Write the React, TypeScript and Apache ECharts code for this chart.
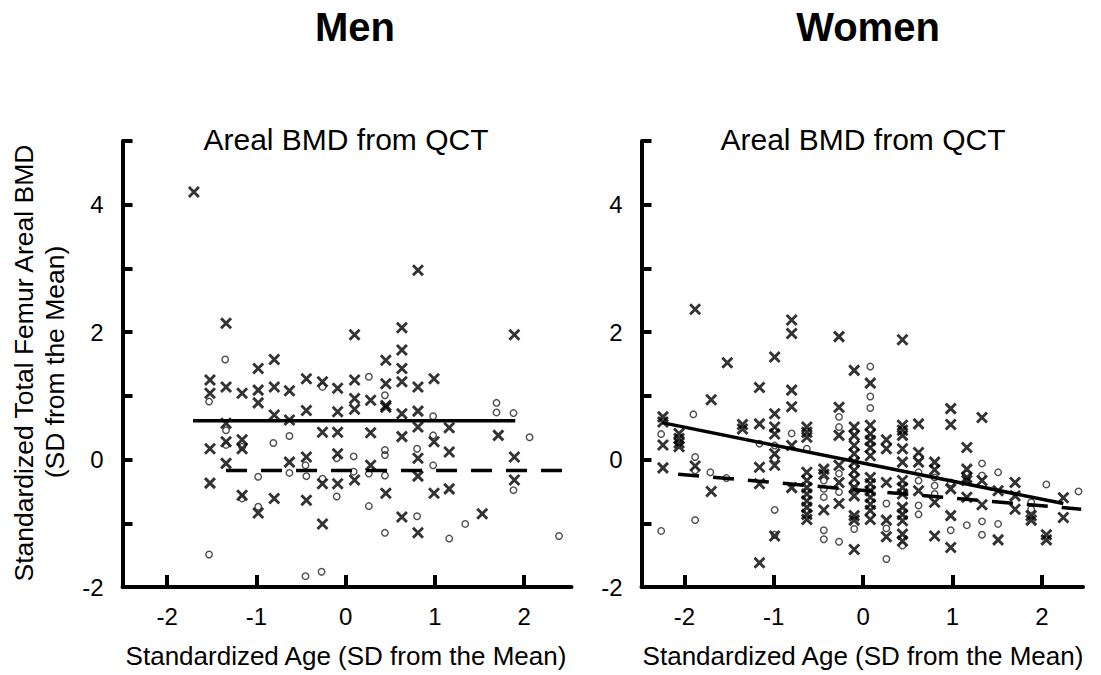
import React, { useEffect, useRef } from 'react';
import * as echarts from 'echarts';

// ---- texts ----
const panelTitles = ['Men', 'Women'];
const panelSubtitle = 'Areal BMD from QCT';
const xAxisName = 'Standardized Age (SD from the Mean)';
const yAxisNameLines = ['Standardized Total Femur Areal BMD', '(SD from the Mean)'];

// ---- ticks ----
const xTicks = [-2, -1, 0, 1, 2];
const yTicks = [-2, -1, 0, 1, 2, 3, 4, 5];
const yTickLabels = [-2, 0, 2, 4];

// ---- Men data (standardized age, standardized BMD) ----
const menCross: number[][] = [
  [-1.70, 4.20], [-1.34, 2.14], [-1.52, 1.25], [-1.52, 1.04], [-1.34, 1.14], [-1.52, 0.17], [-1.52, -0.37],
  [-1.34, 0.57], [-1.34, 0.28], [-1.34, -0.06], [-1.16, 1.04], [-1.16, 0.31], [-1.16, 0.17], [-1.16, -0.56],
  [-0.98, 1.43], [-0.98, 1.09], [-0.98, 0.89], [-0.98, -0.84], [-0.80, 1.57], [-0.80, 1.14], [-0.80, 0.70],
  [-0.80, -0.61], [-0.63, 1.08], [-0.63, 0.62], [-0.63, -0.04], [-0.44, 1.27], [-0.44, 0.77], [-0.44, 0.04],
  [-0.44, -0.64], [-0.26, 1.22], [-0.26, 0.43], [-0.26, -0.38], [-0.26, -1.01], [-0.09, 1.12], [-0.09, 0.75],
  [-0.09, 0.43], [-0.09, 0.09], [-0.09, -0.38], [0.10, 1.96], [0.10, 1.25], [0.10, 0.96], [0.10, 0.79],
  [0.10, -0.32], [0.28, 0.93], [0.28, 0.42], [0.28, -0.09], [0.45, 1.56], [0.45, 1.19], [0.45, 0.85],
  [0.45, 0.82], [0.45, -0.53], [0.63, 2.07], [0.63, 1.72], [0.63, 1.43], [0.63, 1.22], [0.63, 0.72],
  [0.63, 0.36], [0.63, -0.90], [0.81, 2.97], [0.81, 1.14], [0.81, 0.76], [0.81, 0.51], [0.81, 0.02],
  [0.81, -0.26], [0.81, -1.15], [0.99, 1.27], [0.99, 0.28], [0.99, -0.53], [1.16, 0.50], [1.16, 0.12],
  [1.16, -0.46], [1.53, -0.85], [1.71, 0.38], [1.89, 1.96], [1.89, 0.04], [1.89, -0.32],
];
const menCircle: number[][] = [
  [-1.35, 1.57], [-1.53, 0.91], [-1.53, -1.49], [-1.34, 0.46], [-1.34, 0.23], [-1.16, 0.20], [-1.16, -0.61],
  [-0.98, -0.27], [-0.98, -0.74], [-0.81, 0.26], [-0.63, 0.37], [-0.63, -0.21], [-0.45, -0.09], [-0.44, -0.26],
  [-0.45, -1.83], [-0.27, -1.76], [-0.26, 1.14], [-0.26, -0.30], [-0.10, -0.58], [-0.10, 0.02], [0.09, 0.05],
  [0.09, -0.19], [0.26, 1.30], [0.26, -0.22], [0.26, -0.73], [0.44, 1.01], [0.44, 0.15], [0.44, 0.07],
  [0.44, -0.25], [0.44, -1.15], [0.80, 0.17], [0.80, -0.89], [0.98, 0.68], [0.98, 0.38], [0.98, -0.09],
  [1.16, -1.24], [1.34, -1.01], [1.69, 0.89], [1.69, 0.74], [1.88, 0.73], [1.88, -0.48], [2.06, 0.35],
  [2.39, -1.20],
];
const menFitSolid: number[][] = [[-1.71, 0.61], [1.90, 0.61]];
const menFitDashed: number[][] = [[-1.34, -0.17], [2.45, -0.17]];

// ---- Women data ----
const womenCross: number[][] = [
  [-2.24, 0.67], [-2.24, 0.59], [-2.24, 0.23], [-2.24, -0.13],
  [-2.06, 0.41], [-2.06, 0.33], [-2.06, 0.26], [-2.06, 0.20],
  [-1.88, 2.36], [-1.88, -0.10], [-1.70, 0.94], [-1.70, -0.50], [-1.52, 1.52], [-1.35, 0.55], [-1.35, 0.48],
  [-1.16, 1.13], [-1.16, 0.56], [-1.16, -0.12], [-1.16, -0.38], [-1.16, -1.62],
  [-0.99, 1.61], [-0.99, 0.72], [-0.99, 0.51], [-0.99, 0.40], [-0.99, 0.09], [-0.99, -0.09], [-0.99, -1.20],
  [-0.80, 2.19], [-0.80, 1.98], [-0.80, 1.09], [-0.80, 0.83], [-0.80, 0.22], [-0.80, -0.44],
  [-0.63, 0.51], [-0.63, 0.43], [-0.63, 0.35], [-0.63, -0.20], [-0.63, -0.33], [-0.63, -0.44], [-0.63, -0.54],
  [-0.63, -0.65], [-0.63, -0.75], [-0.63, -0.86], [-0.63, -0.94],
  [-0.44, -0.15], [-0.44, -0.23], [-0.44, -0.79],
  [-0.27, 1.93], [-0.27, 0.82], [-0.27, 0.38], [-0.27, -0.09], [-0.27, -0.36], [-0.27, -0.69],
  [-0.10, 1.40], [-0.10, 0.51], [-0.10, 0.38], [-0.10, 0.22], [-0.10, 0.09], [-0.10, -0.04], [-0.10, -0.17],
  [-0.10, -0.30], [-0.10, -0.44], [-0.10, -0.57], [-0.10, -0.88], [-0.10, -0.95], [-0.10, -1.41],
  [0.08, 1.20], [0.08, 0.54], [0.08, 0.40], [0.08, 0.30], [0.08, 0.19], [0.08, 0.06], [0.08, -0.28],
  [0.08, -0.38], [0.08, -0.49], [0.08, -0.59], [0.08, -0.70], [0.08, -0.80], [0.08, -0.94],
  [0.26, 0.31], [0.26, 0.17], [0.26, -0.36], [0.26, -0.95], [0.26, -1.21],
  [0.44, 1.88], [0.44, 0.54], [0.44, 0.46], [0.44, 0.38], [0.44, 0.17], [0.44, -0.04], [0.44, -0.33],
  [0.44, -0.44], [0.44, -0.54], [0.44, -0.75], [0.44, -0.86], [0.44, -0.96], [0.44, -1.17], [0.44, -1.28],
  [0.62, 0.56], [0.62, 0.11], [0.62, -0.04], [0.62, -0.49],
  [0.80, -0.04], [0.80, -0.16], [0.80, -0.67], [0.80, -1.20],
  [0.98, 0.80], [0.98, 0.55], [0.98, -0.46], [0.98, -0.88], [0.98, -1.38],
  [1.16, 0.19], [1.16, -0.15], [1.16, -0.28], [1.16, -0.33], [1.16, -0.59],
  [1.33, 0.66], [1.33, -0.33], [1.33, -0.71], [1.51, -0.49], [1.51, -1.26],
  [1.70, -0.36], [1.70, -0.57], [1.70, -0.78], [1.88, -0.88], [1.88, -0.95],
  [2.05, -1.18], [2.05, -1.26], [2.24, -0.60], [2.24, -0.91],
];
const womenCircle: number[][] = [
  [-2.26, 0.40], [-2.26, -1.12], [-1.90, 0.71], [-1.88, 0.04], [-1.88, -0.17], [-1.71, -0.20], [-1.88, -0.95],
  [-1.53, -0.29], [-1.16, 0.25], [-0.99, 0.22], [-0.99, 0.01], [-0.99, -0.79], [-0.99, -1.18],
  [-0.80, 0.41], [-0.63, 0.17], [-0.44, -0.33], [-0.44, -0.46], [-0.44, -0.59], [-0.44, -1.11], [-0.44, -1.25],
  [-0.27, 0.67], [-0.27, 0.51], [-0.27, -0.22], [-0.27, -0.51], [-0.27, -1.29],
  [-0.10, 0.43], [-0.10, -0.23], [-0.10, -0.46], [-0.10, -1.09],
  [0.08, 1.46], [0.08, 0.99], [0.08, 0.81], [0.08, 0.35], [0.08, 0.25],
  [0.26, -0.69], [0.26, -1.08], [0.26, -1.56], [0.44, -0.80], [0.44, -1.35],
  [0.62, 0.04], [0.62, -0.20], [0.62, -0.33], [0.62, -0.72], [0.62, -0.86],
  [0.80, -0.28], [0.80, -0.41], [0.80, -0.54], [0.98, -0.36], [0.98, -1.11],
  [1.16, -0.23], [1.16, -1.03], [1.33, -0.06], [1.33, -0.25], [1.33, -0.97], [1.33, -1.18],
  [1.51, -0.20], [1.51, -1.01], [1.88, -0.67], [1.88, -0.78], [2.05, -0.39], [2.41, -0.50],
];
const womenFitSolid: number[][] = [[-2.25, 0.58], [2.24, -0.69]];
const womenFitDashed: number[][] = [[-2.07, -0.23], [2.44, -0.78]];

const FONT = '"Liberation Sans", Arial, Helvetica, sans-serif';
const CROSS = 'path://M0,0L10,10M10,0L0,10';

function makeXAxis(gridIndex: number, min: number, max: number) {
  return {
    type: 'value', gridIndex, min, max,
    axisLine: { onZero: false, lineStyle: { color: '#000', width: 4 } },
    axisTick: { inside: true, length: 12, customValues: xTicks, lineStyle: { color: '#000', width: 4 } },
    axisLabel: { customValues: xTicks, margin: 17, fontSize: 24, color: '#000', fontFamily: FONT },
    splitLine: { show: false },
  };
}
function makeYAxis(gridIndex: number) {
  return {
    type: 'value', gridIndex, min: yTicks[0], max: yTicks[yTicks.length - 1], interval: 1,
    axisLine: { onZero: false, lineStyle: { color: '#000', width: 4 } },
    axisTick: { inside: true, length: 10, lineStyle: { color: '#000', width: 4 } },
    axisLabel: {
      margin: 19, fontSize: 24, color: '#000', fontFamily: FONT,
      formatter: (v: number) => (yTickLabels.indexOf(v) >= 0 ? String(v) : ''),
    },
    splitLine: { show: false },
  };
}
function crossSeries(i: number, data: number[][]) {
  return {
    type: 'scatter', xAxisIndex: i, yAxisIndex: i, data, symbol: CROSS, symbolSize: 10, silent: true,
    itemStyle: { color: 'rgba(0,0,0,0)', borderColor: '#000', borderWidth: 2.9 },
  };
}
function circleSeries(i: number, data: number[][]) {
  return {
    type: 'scatter', xAxisIndex: i, yAxisIndex: i, data, symbol: 'circle', symbolSize: 6.5, silent: true,
    itemStyle: { color: 'rgba(255,255,255,0)', borderColor: '#222', borderWidth: 1.4 },
  };
}
function lineSeries(i: number, data: number[][], dashed: boolean) {
  return {
    type: 'line', xAxisIndex: i, yAxisIndex: i, data, symbol: 'none', silent: true,
    lineStyle: { color: '#000', width: 3.5, type: dashed ? [21, 14] : 'solid', cap: 'butt' },
  };
}

export default function App() {
  const ref = useRef<HTMLDivElement>(null);
  useEffect(() => {
    if (!ref.current) return;
    const chart = echarts.init(ref.current, undefined, { renderer: 'svg' });
    const centers = [346, 863];
    const graphic: any[] = [];
    centers.forEach((cx, i) => {
      graphic.push({
        type: 'text', x: cx + (i === 0 ? 9 : 5), y: 27,
        style: { text: panelTitles[i], fontSize: 40, fontWeight: 'bold', fontFamily: '"Liberation Sans Narrow", ' + FONT, fill: '#000', align: 'center', verticalAlign: 'middle' },
      });
      graphic.push({
        type: 'text', x: cx, y: 139,
        style: { text: panelSubtitle, fontSize: 30, fontFamily: FONT, fill: '#000', align: 'center', verticalAlign: 'middle' },
      });
      graphic.push({
        type: 'text', x: cx, y: 656,
        style: { text: xAxisName, fontSize: 26, fontFamily: FONT, fill: '#000', align: 'center', verticalAlign: 'middle' },
      });
    });
    graphic.push({
      type: 'text', x: 24, y: 363, rotation: Math.PI / 2,
      style: { text: yAxisNameLines[0], fontSize: 26.5, fontFamily: FONT, fill: '#000', align: 'center', verticalAlign: 'middle' },
    });
    graphic.push({
      type: 'text', x: 55, y: 362, rotation: Math.PI / 2,
      style: { text: yAxisNameLines[1], fontSize: 26.5, fontFamily: FONT, fill: '#000', align: 'center', verticalAlign: 'middle' },
    });

    chart.setOption({
      animation: false,
      backgroundColor: '#fff',
      grid: [
        { left: 122.5, top: 141, width: 449, height: 446 },
        { left: 641.5, top: 141, width: 441.5, height: 446 },
      ],
      xAxis: [makeXAxis(0, -2.5, 2.53), makeXAxis(1, -2.48, 2.46)],
      yAxis: [makeYAxis(0), makeYAxis(1)],
      graphic,
      series: [
        crossSeries(0, menCross),
        circleSeries(0, menCircle),
        lineSeries(0, menFitSolid, false),
        lineSeries(0, menFitDashed, true),
        crossSeries(1, womenCross),
        circleSeries(1, womenCircle),
        lineSeries(1, womenFitSolid, false),
        lineSeries(1, womenFitDashed, true),
      ],
    });
    return () => chart.dispose();
  }, []);
  return <div ref={ref} style={{ position: 'absolute', left: 0, top: 0, width: 1101, height: 675 }} />;
}
